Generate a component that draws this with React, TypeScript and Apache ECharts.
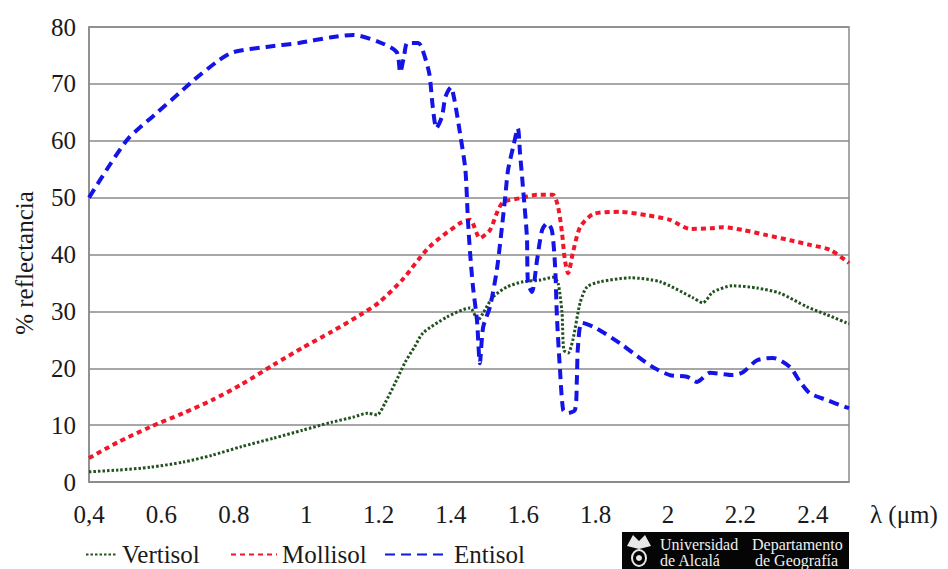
import React, { useEffect, useRef } from "react";
import * as echarts from "echarts";

// ---- data (wavelength in µm, reflectance in %) ----
const xTickLabels = ["0,4", "0.6", "0.8", "1", "1.2", "1.4", "1.6", "1.8", "2", "2.2", "2.4"];
const yTicks = [0, 10, 20, 30, 40, 50, 60, 70, 80];

const vertisolWl = [0.4, 0.48, 0.57, 0.66, 0.74, 0.82, 0.91, 0.99, 1.07, 1.13, 1.17, 1.196, 1.218, 1.246, 1.273, 1.3, 1.323, 1.389, 1.453, 1.475, 1.489, 1.516, 1.555, 1.599, 1.646, 1.682, 1.696, 1.707, 1.712, 1.724, 1.737, 1.757, 1.776, 1.812, 1.895, 1.978, 2.069, 2.096, 2.124, 2.179, 2.246, 2.309, 2.384, 2.439, 2.5];
const vertisolVal = [1.8, 2.1, 2.6, 3.5, 4.7, 6.2, 7.7, 9.1, 10.5, 11.4, 12.1, 11.8, 13.9, 17.4, 21, 23.8, 26.2, 29, 30.6, 28.5, 29.7, 32.5, 34.3, 35.2, 35.5, 36, 35, 29.7, 23.2, 22.7, 25, 31.5, 34.3, 35.2, 35.9, 35.2, 32.4, 31.5, 33.4, 34.5, 34.1, 33.2, 30.8, 29.4, 27.8];

const mollisolWl = [0.4, 0.48, 0.57, 0.66, 0.74, 0.82, 0.91, 0.99, 1.07, 1.15, 1.2, 1.265, 1.34, 1.425, 1.453, 1.48, 1.508, 1.527, 1.544, 1.591, 1.638, 1.682, 1.696, 1.707, 1.715, 1.724, 1.737, 1.757, 1.793, 1.867, 1.942, 2.005, 2.061, 2.116, 2.152, 2.207, 2.273, 2.337, 2.392, 2.448, 2.5];
const mollisolVal = [4.2, 7, 9.7, 12.1, 14.4, 17.1, 20.6, 23.6, 26.4, 29.4, 31.5, 35.5, 41.3, 45.5, 46.1, 42.9, 44.3, 47.3, 49.2, 49.9, 50.5, 50.5, 48.4, 43.8, 39, 36.7, 40.3, 44.8, 47.1, 47.5, 46.9, 46.1, 44.5, 44.6, 44.8, 44.3, 43.4, 42.5, 41.7, 40.8, 38.5];

const entisolWl = [0.4, 0.46, 0.51, 0.58, 0.65, 0.69, 0.76, 0.8, 0.89, 0.98, 1.07, 1.13, 1.2, 1.25, 1.26, 1.27, 1.28, 1.31, 1.32, 1.34, 1.35, 1.36, 1.375, 1.385, 1.4, 1.41, 1.425, 1.44, 1.447, 1.453, 1.461, 1.472, 1.48, 1.489, 1.508, 1.527, 1.541, 1.55, 1.558, 1.572, 1.585, 1.591, 1.599, 1.61, 1.613, 1.624, 1.638, 1.652, 1.666, 1.679, 1.688, 1.693, 1.701, 1.71, 1.721, 1.743, 1.748, 1.751, 1.762, 1.8, 1.867, 1.903, 1.958, 2.005, 2.052, 2.08, 2.116, 2.179, 2.207, 2.246, 2.29, 2.337, 2.365, 2.392, 2.439, 2.489, 2.5];
const entisolVal = [50, 56, 60.5, 64.5, 68.4, 70.7, 74.2, 75.6, 76.5, 77.2, 78.2, 78.6, 77.4, 75.6, 72, 74.7, 77.2, 77.2, 76.3, 71.9, 65.9, 62.2, 64.2, 67.7, 69.4, 67.1, 61.4, 54.9, 46.1, 40.3, 34.3, 28.5, 20.9, 27.2, 30.8, 37.3, 44.8, 50.1, 54.9, 58.9, 62.2, 57.8, 51.9, 43.1, 35, 33.4, 39, 44.3, 45.5, 44.3, 37.8, 29, 20.2, 12.7, 12.1, 12.7, 17.9, 23.7, 28, 27.1, 24.4, 22.7, 20.2, 18.8, 18.5, 17.6, 19.2, 18.8, 19.3, 21.4, 21.8, 20.2, 17.6, 15.6, 14.4, 13.2, 13];

const seriesNames = ["Vertisol", "Mollisol", "Entisol"];

const zip = (a: number[], b: number[]) => a.map((x, i) => [x, b[i]]);

const FONT = "'Liberation Serif', 'DejaVu Serif', serif";
const GRID_GRAY = "#8a8a8a";

export default function App() {
  const ref = useRef<HTMLDivElement>(null);
  useEffect(() => {
    if (!ref.current) return;
    const chart = echarts.init(ref.current, undefined, { renderer: "svg" });
    const legendBase = {
      top: 542,
      itemHeight: 12,
      itemGap: 5,
      padding: 0,
      itemStyle: { opacity: 0 },
      textStyle: { fontFamily: FONT, fontSize: 25, lineHeight: 25, color: "#1a1a1a" },
      selectedMode: false,
    };
    chart.setOption({
      animation: false,
      backgroundColor: "#ffffff",
      grid: { left: 89, right: 99, top: 27, bottom: 87, show: true, borderColor: GRID_GRAY, borderWidth: 1.5 },
      xAxis: {
        type: "value",
        min: 0.4,
        max: 2.5,
        interval: 0.2,
        axisLine: { show: true, lineStyle: { color: GRID_GRAY, width: 1.5 } },
        axisTick: { show: false },
        splitLine: { show: false },
        axisLabel: {
          margin: 20,
          showMaxLabel: false,
          fontFamily: FONT,
          fontSize: 25,
          color: "#1a1a1a",
          formatter: (v: number) => {
            const i = Math.round((v - 0.4) / 0.2);
            return xTickLabels[i] ?? "";
          },
        },
      },
      yAxis: {
        type: "value",
        min: yTicks[0],
        max: yTicks[yTicks.length - 1],
        interval: 10,
        axisLine: { show: true, lineStyle: { color: GRID_GRAY, width: 1.5 } },
        axisTick: { show: false },
        splitLine: { show: true, lineStyle: { color: GRID_GRAY, width: 1.5 } },
        axisLabel: { margin: 13, fontFamily: FONT, fontSize: 25, color: "#1a1a1a" },
      },
      legend: [
        { ...legendBase, left: 85, itemWidth: 31, data: [seriesNames[0]] },
        { ...legendBase, left: 230, itemWidth: 46, data: [seriesNames[1]] },
        { ...legendBase, left: 384, itemWidth: 64, data: [seriesNames[2]] },
      ],
      series: [
        {
          name: seriesNames[0],
          type: "line",
          data: zip(vertisolWl, vertisolVal),
          showSymbol: false,
          symbol: "none",
          smooth: 0.25,
          lineStyle: { color: "#22521f", width: 3, type: [2.5, 2], cap: "butt" },
          itemStyle: { color: "#22521f" },
          z: 3,
        },
        {
          name: seriesNames[1],
          type: "line",
          data: zip(mollisolWl, mollisolVal),
          showSymbol: false,
          symbol: "none",
          smooth: 0.25,
          lineStyle: { color: "#f2162a", width: 4, type: [5, 4], cap: "butt" },
          itemStyle: { color: "#f2162a" },
          z: 4,
        },
        {
          name: seriesNames[2],
          type: "line",
          data: zip(entisolWl, entisolVal),
          showSymbol: false,
          symbol: "none",
          smooth: 0.25,
          lineStyle: { color: "#1414e6", width: 4, type: [10, 6], cap: "butt" },
          itemStyle: { color: "#1414e6" },
          z: 5,
        },
      ],
      graphic: [
        {
          type: "text",
          x: 24,
          y: 263,
          rotation: Math.PI / 2,
          style: { text: "% reflectancia", fontFamily: FONT, fontSize: 25, fill: "#1a1a1a", align: "center", verticalAlign: "middle" },
        },
        {
          type: "text",
          x: 870,
          y: 514,
          style: { text: "λ (μm)", fontFamily: FONT, fontSize: 25, fill: "#1a1a1a", align: "left", verticalAlign: "middle" },
        },
        {
          type: "group",
          children: [
            { type: "rect", shape: { x: 622, y: 532, width: 227, height: 37 }, style: { fill: "#050505" } },
            { type: "ellipse", shape: { cx: 639, cy: 558, rx: 7, ry: 8 }, style: { fill: "none", stroke: "#e8e8e8", lineWidth: 2 } },
            { type: "circle", shape: { cx: 639, cy: 558, r: 3 }, style: { fill: "#e8e8e8" } },
            { type: "polygon", shape: { points: [[627, 546], [633, 535], [639, 541], [645, 535], [651, 546], [639, 549]] }, style: { fill: "#e8e8e8" } },
            { type: "text", x: 660, y: 537, style: { text: "Universidad", fontFamily: FONT, fontSize: 16, lineHeight: 15, fill: "#f0f0f0", verticalAlign: "top" } },
            { type: "text", x: 752, y: 537, style: { text: "Departamento", fontFamily: FONT, fontSize: 16, lineHeight: 15, fill: "#f0f0f0", verticalAlign: "top" } },
            { type: "text", x: 660, y: 553, style: { text: "de Alcalá", fontFamily: FONT, fontSize: 16, lineHeight: 15, fill: "#f0f0f0", verticalAlign: "top" } },
            { type: "text", x: 755, y: 553, style: { text: "de Geografía", fontFamily: FONT, fontSize: 16, lineHeight: 15, fill: "#f0f0f0", verticalAlign: "top" } },
          ],
        },
      ],
    });
    return () => chart.dispose();
  }, []);
  return <div ref={ref} style={{ position: "fixed", left: 0, top: 0, width: 948, height: 569 }} />;
}
